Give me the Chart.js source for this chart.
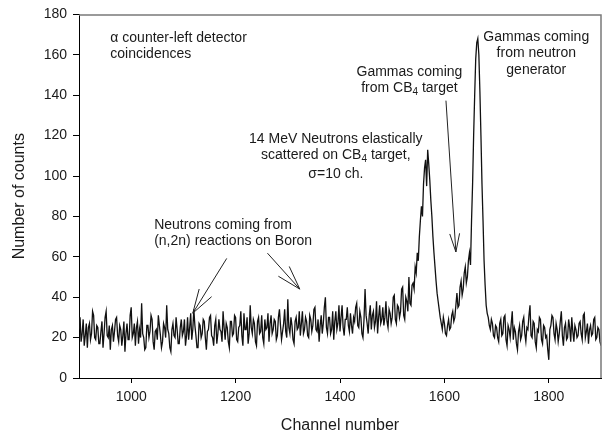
<!DOCTYPE html>
<html>
<head>
<meta charset="utf-8">
<script src="https://cdn.jsdelivr.net/npm/chart.js@4.4.0/dist/chart.umd.min.js"></script>
<style>
  html, body { margin: 0; padding: 0; background: #fff; }
</style>
</head>
<body>
<canvas id="spectrum" width="616" height="441"></canvas>
<script>
// Spectrum, one value every 2 channels (900 .. 1900)
const firstChannel = 900;
const channelStep = 2;
const counts = [
  24, 30, 18, 22, 29, 16, 21, 27, 15, 25, 27, 19, 22, 33, 31, 20, 19, 26, 25, 17,
  17, 23, 28, 15, 22, 30, 33, 21, 20, 26, 14, 24, 26, 18, 23, 29, 30, 21, 18, 26,
  24, 16, 21, 28, 13, 22, 27, 19, 19, 31, 35, 20, 22, 27, 16, 25, 28, 17, 24, 20,
  37, 22, 20, 14, 15, 26, 26, 20, 23, 31, 29, 18, 14, 23, 24, 19, 31, 26, 21, 15,
  18, 27, 25, 20, 36, 24, 22, 15, 13, 24, 27, 21, 20, 30, 24, 17, 17, 25, 29, 21,
  23, 29, 16, 21, 30, 19, 25, 32, 19, 24, 34, 26, 21, 15, 15, 27, 26, 20, 22, 29,
  28, 20, 14, 23, 24, 30, 31, 21, 20, 16, 26, 29, 17, 22, 29, 24, 23, 18, 33, 25,
  19, 27, 25, 18, 15, 28, 28, 21, 22, 31, 30, 19, 18, 25, 26, 33, 21, 16, 32, 24,
  24, 30, 17, 22, 36, 25, 22, 29, 27, 18, 16, 28, 30, 22, 23, 31, 20, 17, 29, 24,
  25, 32, 18, 27, 31, 22, 24, 29, 28, 19, 21, 30, 34, 26, 19, 23, 27, 34, 23, 20,
  39, 25, 22, 30, 26, 19, 17, 28, 30, 24, 25, 33, 21, 27, 33, 22, 24, 30, 28, 21,
  20, 31, 29, 23, 26, 34, 35, 24, 23, 29, 18, 26, 31, 22, 27, 35, 40, 25, 22, 30,
  30, 22, 24, 33, 19, 28, 33, 24, 27, 36, 23, 30, 36, 25, 21, 29, 29, 35, 26, 23,
  32, 26, 22, 30, 28, 35, 37, 26, 25, 33, 30, 22, 20, 29, 44, 31, 27, 22, 31, 36,
  24, 31, 33, 25, 28, 38, 22, 30, 36, 27, 29, 35, 26, 30, 38, 28, 25, 34, 32, 27,
  30, 40, 41, 29, 27, 36, 35, 30, 33, 44, 45, 31, 29, 40, 38, 33, 50, 37, 36, 46,
  47, 44, 55, 52, 62, 58, 70, 78, 85, 80, 96, 104, 108, 95, 113, 106, 98, 88, 80, 70,
  62, 55, 48, 42, 38, 34, 30, 27, 24, 30, 27, 22, 21, 26, 29, 24, 25, 31, 33, 28,
  30, 36, 42, 35, 36, 45, 48, 41, 44, 52, 55, 47, 50, 58, 62, 56, 78, 96, 120, 140,
  158, 166, 168, 160, 142, 120, 96, 78, 58, 46, 36, 32, 30, 26, 24, 29, 27, 21, 20, 26,
  25, 20, 18, 27, 29, 21, 22, 30, 31, 19, 16, 26, 24, 20, 27, 33, 19, 25, 23, 17,
  14, 23, 26, 19, 21, 28, 30, 22, 18, 25, 24, 31, 36, 21, 20, 28, 27, 18, 15, 24,
  23, 30, 29, 19, 17, 26, 25, 20, 21, 14, 9, 24, 26, 31, 30, 22, 19, 27, 24, 18,
  22, 28, 33, 21, 16, 25, 27, 19, 20, 29, 25, 18, 30, 23, 18, 26, 24, 20, 21, 27,
  28, 22, 19, 31, 32, 20, 23, 27, 17, 24, 26, 21, 22, 29, 30, 19, 20, 25, 24, 18,
  16
];
const xTicks = [1000, 1200, 1400, 1600, 1800];
const xRange = [900, 1900];
const yRange = [0, 180];

// Annotation text, placed in data units (channel, counts); "_4" = subscript 4
const notes = [
  { x: 960, y: [168.2, 160.3], align: 'left', lines: ['\u03b1 counter-left detector', 'coincidences'] },
  { x: 1776, y: [168.8, 160.6, 152.4], align: 'center', lines: ['Gammas coming', 'from neutron', 'generator'] },
  { x: 1533, y: [151.2, 143.5], align: 'center', lines: ['Gammas coming', 'from CB_4 target'] },
  { x: 1392, y: [118.4, 110.1, 101.1], align: 'center', lines: ['14 MeV Neutrons elastically', 'scattered on CB_4 target,', '\u03c3=10 ch.'] },
  { x: 1044, y: [75.6, 67.9], align: 'left', lines: ['Neutrons coming from', '(n,2n) reactions on Boron'] }
];
const arrows = [
  { from: [1183, 59.2], to: [1118, 32.1], head: 25, spread: 17 },
  { from: [1261, 61.8], to: [1323, 44.0], head: 25, spread: 17 },
  { from: [1603, 137.3], to: [1622, 62.4], head: 19, spread: 15 }
];

const fontFamily = "'Liberation Sans', Arial, sans-serif";
const ink = '#1a1a1a';

function drawLine(ctx, x, y, text, align) {
  // split into plain / subscript runs
  const runs = [];
  const re = /_(.)/g;
  let last = 0, m;
  while ((m = re.exec(text))) {
    if (m.index > last) runs.push({ t: text.slice(last, m.index), sub: false });
    runs.push({ t: m[1], sub: true });
    last = m.index + 2;
  }
  if (last < text.length) runs.push({ t: text.slice(last), sub: false });

  const big = '14px ' + fontFamily, small = '10px ' + fontFamily;
  let total = 0;
  runs.forEach(r => { ctx.font = r.sub ? small : big; r.w = ctx.measureText(r.t).width; total += r.w; });
  let cx = align === 'center' ? x - total / 2 : x;
  ctx.textAlign = 'left';
  ctx.textBaseline = 'middle';
  runs.forEach(r => {
    ctx.font = r.sub ? small : big;
    ctx.fillText(r.t, cx, r.sub ? y + 4 : y);
    cx += r.w;
  });
}

const annotations = {
  id: 'annotations',
  afterDraw(chart) {
    const { ctx, chartArea, scales: { x, y } } = chart;
    ctx.save();

    // frame top and right in grey
    ctx.strokeStyle = '#7a7a7a';
    ctx.lineWidth = 1.5;
    ctx.beginPath();
    ctx.moveTo(chartArea.left, chartArea.top + 0.5);
    ctx.lineTo(chartArea.right, chartArea.top + 0.5);
    ctx.lineTo(chartArea.right, chartArea.bottom);
    ctx.stroke();

    ctx.fillStyle = ink;
    notes.forEach(n => {
      n.lines.forEach((line, i) => {
        drawLine(ctx, x.getPixelForValue(n.x), y.getPixelForValue(n.y[i]), line, n.align);
      });
    });

    ctx.strokeStyle = '#222';
    ctx.lineWidth = 1;
    arrows.forEach(a => {
      const x0 = x.getPixelForValue(a.from[0]), y0 = y.getPixelForValue(a.from[1]);
      const x1 = x.getPixelForValue(a.to[0]), y1 = y.getPixelForValue(a.to[1]);
      const ang = Math.atan2(y0 - y1, x0 - x1);
      const s = a.spread * Math.PI / 180;
      ctx.beginPath();
      ctx.moveTo(x0, y0);
      ctx.lineTo(x1, y1);
      ctx.moveTo(x1 + a.head * Math.cos(ang - s), y1 + a.head * Math.sin(ang - s));
      ctx.lineTo(x1, y1);
      ctx.lineTo(x1 + a.head * Math.cos(ang + s), y1 + a.head * Math.sin(ang + s));
      ctx.stroke();
    });
    ctx.restore();
  }
};

const points = counts.map((v, i) => ({ x: firstChannel + i * channelStep, y: v }));

new Chart(document.getElementById('spectrum'), {
  type: 'line',
  data: {
    datasets: [{
      data: points,
      borderColor: '#111',
      borderWidth: 1.3,
      pointRadius: 0,
      tension: 0,
      fill: false
    }]
  },
  options: {
    responsive: false,
    animation: false,
    layout: { padding: { top: 13, right: 15, left: 0, bottom: 0 } },
    plugins: {
      legend: { display: false },
      tooltip: { enabled: false }
    },
    scales: {
      x: {
        type: 'linear',
        min: xRange[0],
        max: xRange[1],
        afterBuildTicks: s => { s.ticks = xTicks.map(v => ({ value: v })); },
        afterFit: s => { s.height = 63; },
        grid: { drawOnChartArea: false, tickLength: 5, color: '#000' },
        border: { color: '#000', width: 1 },
        ticks: {
          color: ink,
          padding: 6,
          font: { family: fontFamily, size: 14 },
          callback: v => String(v)
        },
        title: {
          display: true,
          text: 'Channel number',
          color: ink,
          padding: { top: 0, bottom: 6 },
          font: { family: fontFamily, size: 16 }
        }
      },
      y: {
        min: yRange[0],
        max: yRange[1],
        afterFit: s => { s.width = 79; },
        grid: { drawOnChartArea: false, tickLength: 6, color: '#000' },
        border: { color: '#000', width: 1 },
        ticks: { stepSize: 20, color: ink, padding: 6, font: { family: fontFamily, size: 14 } },
        title: {
          display: true,
          text: 'Number of counts',
          color: ink,
          padding: { top: 10, bottom: 0 },
          font: { family: fontFamily, size: 16 }
        }
      }
    }
  },
  plugins: [annotations]
});
</script>
</body>
</html>
